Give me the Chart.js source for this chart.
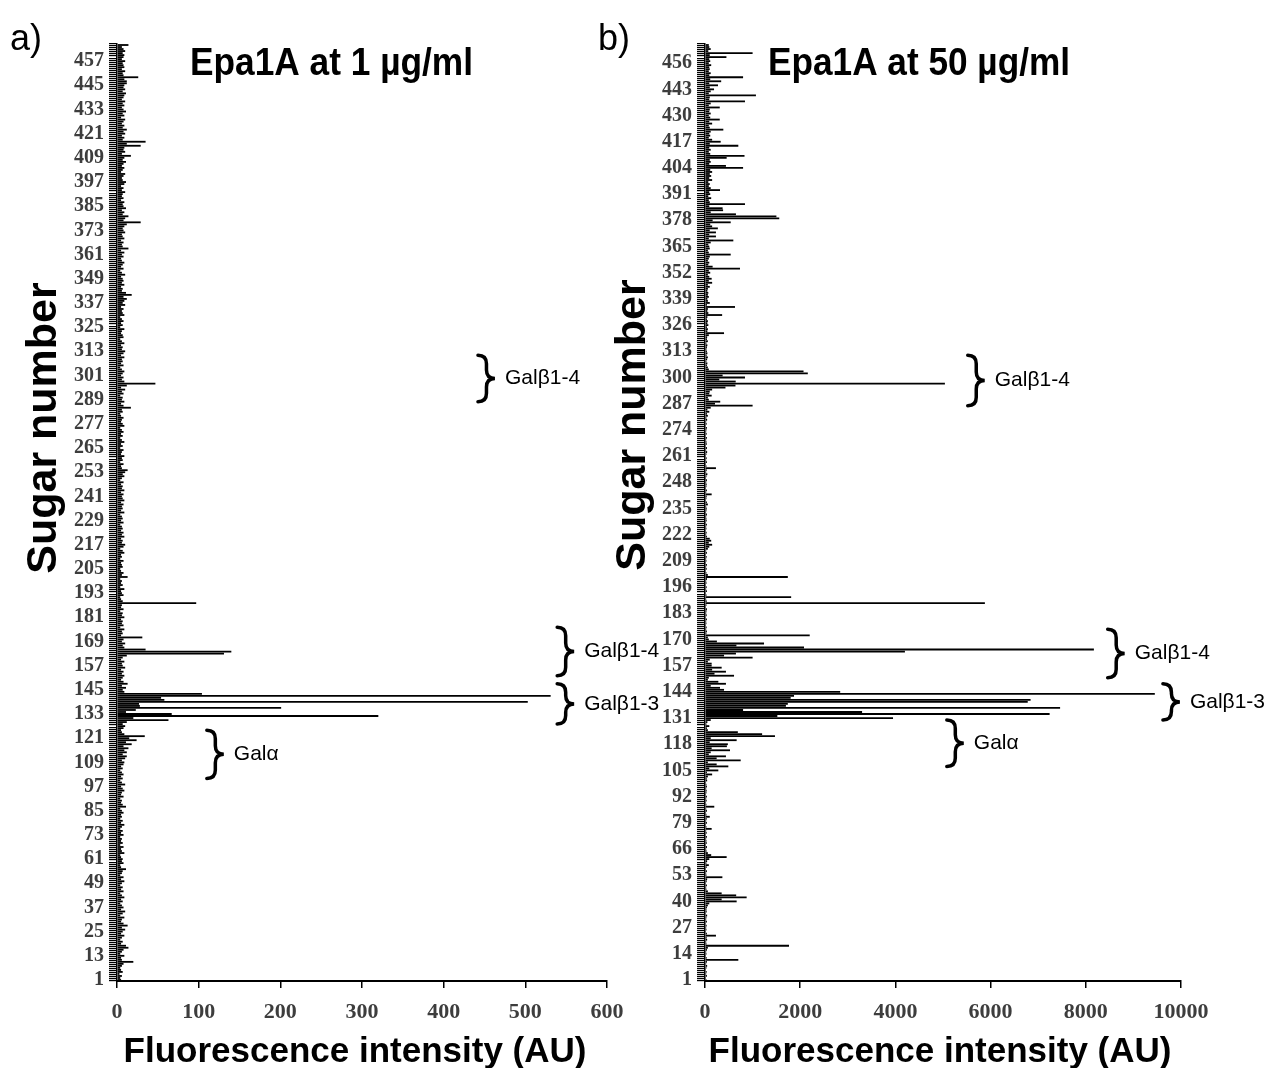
<!DOCTYPE html>
<html>
<head>
<meta charset="utf-8">
<script src="https://cdn.jsdelivr.net/npm/chart.js@4.4.1/dist/chart.umd.min.js"></script>
<style>
  body { margin: 0; background: #fff; }
  #wrap { position: relative; width: 1271px; height: 1068px; overflow: hidden; }
  canvas { position: absolute; top: 0; }
  #chart-a { left: 0; }
  #chart-b { left: 590px; }
</style>
</head>
<body>
<div id="wrap">
  <canvas id="chart-b" width="681" height="1068"></canvas>
  <canvas id="chart-a" width="690" height="1068"></canvas>
</div>
<script>
// sugar numbers on the array (1..465)
const sugars = Array.from({ length: 465 }, (_, i) => i + 1);

// labelled ticks on the y axes
const ticksA = [1, 13, 25, 37, 49, 61, 73, 85, 97, 109, 121, 133, 145, 157, 169, 181, 193, 205, 217, 229,
  241, 253, 265, 277, 289, 301, 313, 325, 337, 349, 361, 373, 385, 397, 409, 421, 433, 445, 457];
const ticksB = [1, 14, 27, 40, 53, 66, 79, 92, 105, 118, 131, 144, 157, 170, 183, 196, 209, 222, 235, 248,
  261, 274, 287, 300, 313, 326, 339, 352, 365, 378, 391, 404, 417, 430, 443, 456];

// Epa1A at 1 ug/ml, sugar 1..465
const valuesA = [
  5, 4, 6, 3, 7, 5, 4, 6, 8, 20, 6, 5, 9, 4, 6,
  8, 14, 11, 5, 7, 4, 6, 9, 5, 7, 10, 6, 13, 8, 5,
  6, 9, 4, 7, 10, 5, 8, 6, 4, 7, 5, 9, 6, 4, 8,
  5, 7, 4, 6, 9, 5, 8, 4, 6, 7, 11, 5, 4, 8, 6,
  7, 5, 4, 9, 6, 5, 8, 4, 7, 5, 6, 4, 8, 5, 7,
  4, 6, 9, 5, 7, 4, 6, 5, 8, 6, 4, 11, 7, 5, 6,
  4, 8, 5, 6, 9, 7, 5, 10, 6, 4, 7, 5, 8, 6, 4,
  7, 5, 8, 9, 6, 10, 12, 7, 12, 9, 14, 8, 18, 11, 24,
  15, 34, 9, 6, 5, 8, 10, 7, 12, 63, 20, 320, 67, 11, 23,
  201, 28, 27, 503, 58, 54, 531, 104, 9, 7, 11, 6, 13, 8, 5,
  7, 9, 6, 8, 5, 10, 7, 6, 9, 5, 7, 12, 131, 140, 35,
  9, 7, 10, 6, 8, 31, 5, 7, 6, 9, 4, 8, 6, 7, 5,
  9, 6, 7, 4, 8, 5, 6, 97, 7, 5, 4, 8, 6, 5, 9,
  4, 7, 5, 6, 4, 13, 6, 8, 5, 4, 7, 6, 5, 8, 4,
  6, 5, 9, 7, 4, 8, 10, 6, 7, 5, 9, 6, 8, 5, 7,
  6, 4, 8, 5, 7, 6, 4, 9, 5, 7, 6, 8, 5, 9, 7,
  6, 8, 5, 9, 6, 7, 5, 8, 4, 6, 9, 7, 10, 13, 6,
  5, 8, 4, 7, 6, 9, 5, 6, 8, 4, 7, 5, 9, 6, 4,
  7, 5, 8, 6, 4, 9, 7, 5, 6, 8, 5, 4, 7, 6, 17,
  8, 5, 9, 6, 7, 4, 8, 6, 10, 5, 12, 47, 9, 6, 8,
  5, 7, 9, 6, 4, 8, 5, 7, 6, 9, 5, 8, 10, 6, 7,
  5, 9, 6, 4, 8, 7, 5, 6, 9, 4, 7, 5, 8, 6, 4,
  9, 7, 6, 8, 5, 10, 7, 9, 12, 8, 18, 11, 6, 7, 5,
  9, 6, 8, 7, 5, 10, 6, 4, 8, 5, 7, 9, 6, 5, 8,
  6, 9, 5, 14, 7, 6, 8, 5, 9, 7, 6, 10, 8, 7, 9,
  12, 29, 8, 10, 14, 7, 9, 6, 11, 8, 7, 9, 5, 8, 6,
  7, 10, 6, 8, 5, 9, 11, 7, 6, 8, 10, 5, 7, 9, 6,
  8, 11, 7, 9, 17, 6, 10, 8, 9, 29, 12, 35, 7, 9, 6,
  10, 8, 12, 7, 9, 6, 8, 10, 5, 9, 7, 11, 8, 6, 9,
  7, 10, 6, 8, 9, 11, 7, 10, 8, 9, 12, 12, 9, 26, 8,
  7, 10, 6, 9, 8, 7, 10, 6, 8, 9, 7, 10, 8, 6, 14
];

// Epa1A at 50 ug/ml, sugar 1..465
const valuesB = [
  30, 20, 40, 25, 35, 20, 30, 45, 25, 40, 700, 35, 20, 30, 25,
  40, 60, 1765, 30, 25, 45, 35, 230, 40, 20, 30, 25, 35, 20, 40,
  25, 30, 45, 20, 35, 30, 40, 60, 90, 665, 350, 875, 655, 350, 60,
  30, 25, 40, 20, 35, 45, 365, 30, 25, 40, 20, 35, 80, 30, 45,
  90, 455, 130, 60, 30, 25, 40, 20, 35, 30, 25, 40, 20, 35, 25,
  140, 30, 20, 40, 25, 35, 100, 30, 20, 40, 25, 195, 30, 20, 35,
  25, 40, 20, 30, 35, 25, 40, 30, 20, 45, 35, 60, 150, 40, 280,
  90, 490, 245, 60, 750, 245, 440, 80, 120, 525, 140, 460, 480, 100, 665,
  120, 1470, 1200, 690, 60, 40, 90, 30, 50, 120, 3950, 1520, 7240, 3300, 800,
  7460, 1700, 1740, 6780, 6840, 1800, 1870, 9450, 2840, 400, 315, 120, 440, 280, 60,
  80, 610, 200, 440, 150, 350, 140, 140, 60, 100, 1000, 400, 650, 4200, 8170,
  2080, 660, 1240, 250, 80, 60, 2200, 30, 40, 25, 35, 20, 30, 25, 40,
  20, 35, 25, 30, 40, 20, 30, 5880, 35, 25, 1810, 30, 20, 40, 25,
  35, 20, 30, 25, 40, 1740, 60, 30, 20, 35, 25, 40, 20, 30, 25,
  35, 20, 40, 25, 60, 90, 150, 80, 130, 100, 40, 25, 35, 20, 30,
  25, 40, 20, 35, 30, 25, 40, 20, 30, 35, 25, 60, 40, 20, 30,
  35, 140, 25, 40, 20, 30, 35, 25, 40, 20, 30, 50, 25, 35, 230,
  30, 20, 40, 25, 35, 20, 30, 45, 25, 40, 20, 35, 30, 25, 40,
  20, 35, 25, 30, 40, 20, 35, 25, 45, 30, 60, 40, 90, 50, 120,
  1000, 210, 320, 80, 60, 140, 90, 100, 150, 430, 640, 5040, 645, 300, 840,
  370, 2160, 2070, 80, 60, 40, 50, 30, 45, 60, 35, 50, 40, 30, 40,
  50, 30, 60, 40, 45, 80, 400, 50, 60, 40, 70, 50, 60, 40, 50,
  360, 70, 50, 60, 630, 40, 100, 60, 50, 80, 60, 70, 50, 60, 100,
  60, 150, 80, 140, 90, 60, 110, 80, 735, 160, 70, 90, 60, 80, 100,
  540, 80, 60, 100, 90, 70, 120, 595, 80, 230, 90, 230, 100, 270, 150,
  110, 540, 160, 1560, 1500, 650, 120, 380, 370, 90, 840, 100, 80, 130, 70,
  110, 90, 315, 120, 80, 100, 70, 150, 90, 130, 100, 150, 110, 800, 440,
  90, 120, 100, 455, 830, 110, 80, 120, 90, 700, 100, 330, 150, 80, 110,
  90, 120, 385, 100, 80, 150, 90, 310, 110, 80, 120, 90, 100, 310, 80,
  120, 840, 90, 100, 1070, 80, 120, 190, 100, 273, 90, 340, 110, 800, 90,
  120, 80, 100, 90, 130, 80, 110, 90, 450, 100, 1000, 70, 120, 90, 80
];

// bracketed sugar groups: [first sugar, last sugar, x value of brace, label]
const groupsA = [
  [288, 311, 442, "Galβ1-4"],
  [152, 176, 539, "Galβ1-4"],
  [128, 148, 539, "Galβ1-3"],
  [101, 125, 110, "Galα"],
];
const groupsB = [
  [286, 311, 5520, "Galβ1-4"],
  [151, 175, 8460, "Galβ1-4"],
  [130, 148, 9620, "Galβ1-3"],
  [107, 130, 5080, "Galα"],
];

const SANS = '"Liberation Sans", Arial, sans-serif';
const SERIF = '"Liberation Serif", "Times New Roman", serif';

function drawBrace(ctx, x, top, bottom, w) {
  const mid = (top + bottom) / 2;
  const h = w / 2;
  ctx.beginPath();
  ctx.moveTo(x, top);
  ctx.quadraticCurveTo(x + h, top, x + h, top + h);
  ctx.lineTo(x + h, mid - h);
  ctx.quadraticCurveTo(x + h, mid, x + w, mid);
  ctx.quadraticCurveTo(x + h, mid, x + h, mid + h);
  ctx.lineTo(x + h, bottom - h);
  ctx.quadraticCurveTo(x + h, bottom, x, bottom);
  ctx.stroke();
}

const overlay = {
  id: "overlay",
  afterDraw(chart, args, opts) {
    const { ctx } = chart;
    const x = chart.scales.x;
    const y = chart.scales.y;
    ctx.save();
    ctx.fillStyle = "#000";
    ctx.strokeStyle = "#000";
    opts.texts.forEach((t) => {
      ctx.save();
      ctx.font = t.font;
      ctx.textAlign = t.align || "left";
      ctx.textBaseline = "alphabetic";
      ctx.translate(t.x, t.y);
      if (t.rotate) ctx.rotate(t.rotate);
      if (t.width) ctx.fillText(t.text, 0, 0, t.width);
      else ctx.fillText(t.text, 0, 0);
      ctx.restore();
    });
    ctx.lineWidth = 3.5;
    ctx.lineCap = "round";
    ctx.font = "21px " + SANS;
    ctx.textBaseline = "middle";
    ctx.textAlign = "left";
    opts.groups.forEach(([from, to, at, label]) => {
      const px = x.getPixelForValue(at);
      const top = y.getPixelForValue(to - 1);
      const bottom = y.getPixelForValue(from - 1);
      drawBrace(ctx, px, top, bottom, 17);
      ctx.fillText(label, px + 27, (top + bottom) / 2);
    });
    ctx.restore();
  },
};

function makeChart(id, values, tickList, xMax, xStep, yWidth, padRight, texts, groups) {
  const shown = new Set(tickList);
  return new Chart(document.getElementById(id), {
    type: "bar",
    data: {
      labels: sugars,
      datasets: [
        {
          data: values,
          backgroundColor: "#000",
          barPercentage: 1,
          categoryPercentage: 0.9,
        },
      ],
    },
    options: {
      indexAxis: "y",
      responsive: false,
      animation: false,
      layout: { padding: { top: 44, right: padRight, left: 0, bottom: 0 } },
      plugins: {
        legend: { display: false },
        tooltip: { enabled: false },
        overlay: { texts: texts, groups: groups },
      },
      scales: {
        x: {
          min: 0,
          max: xMax,
          ticks: {
            stepSize: xStep,
            maxRotation: 0,
            padding: 11,
            color: "#3d3d3d",
            font: { family: SERIF, weight: "bold", size: 22 },
            callback: (v) => String(v),
          },
          grid: { drawOnChartArea: false, tickLength: 7, color: "#000", lineWidth: 1.5 },
          border: { color: "#000", width: 2 },
          afterFit: (s) => { s.height = 87; },
        },
        y: {
          reverse: true,
          ticks: {
            autoSkip: false,
            padding: 5,
            color: "#3d3d3d",
            font: { family: SERIF, weight: "bold", size: 20 },
            callback: function (v) {
              const lab = this.getLabelForValue(v);
              return shown.has(Number(lab)) ? lab : "";
            },
          },
          grid: { drawOnChartArea: false, tickLength: 8, color: "#000", lineWidth: 1.2 },
          border: { color: "#000", width: 1.5 },
          afterFit: (s) => { s.width = yWidth; },
        },
      },
    },
    plugins: [overlay],
  });
}

makeChart("chart-a", valuesA, ticksA, 600, 100, 117, 83, [
  { text: "a)", x: 10, y: 50, font: "36px " + SANS },
  { text: "Epa1A at 1 µg/ml", x: 190, y: 75, font: "bold 38px " + SANS, width: 283 },
  { text: "Sugar number", x: 56, y: 428, font: "bold 43px " + SANS, align: "center", rotate: -Math.PI / 2 },
  { text: "Fluorescence intensity (AU)", x: 355, y: 1062, font: "bold 35px " + SANS, align: "center", width: 470 },
], groupsA);

makeChart("chart-b", valuesB, ticksB, 10000, 2000, 115, 90, [
  { text: "b)", x: 8, y: 50, font: "36px " + SANS },
  { text: "Epa1A at 50 µg/ml", x: 178, y: 75, font: "bold 38px " + SANS, width: 302 },
  { text: "Sugar number", x: 55, y: 425, font: "bold 43px " + SANS, align: "center", rotate: -Math.PI / 2 },
  { text: "Fluorescence intensity (AU)", x: 350, y: 1062, font: "bold 35px " + SANS, align: "center", width: 471 },
], groupsB);
</script>
</body>
</html>
